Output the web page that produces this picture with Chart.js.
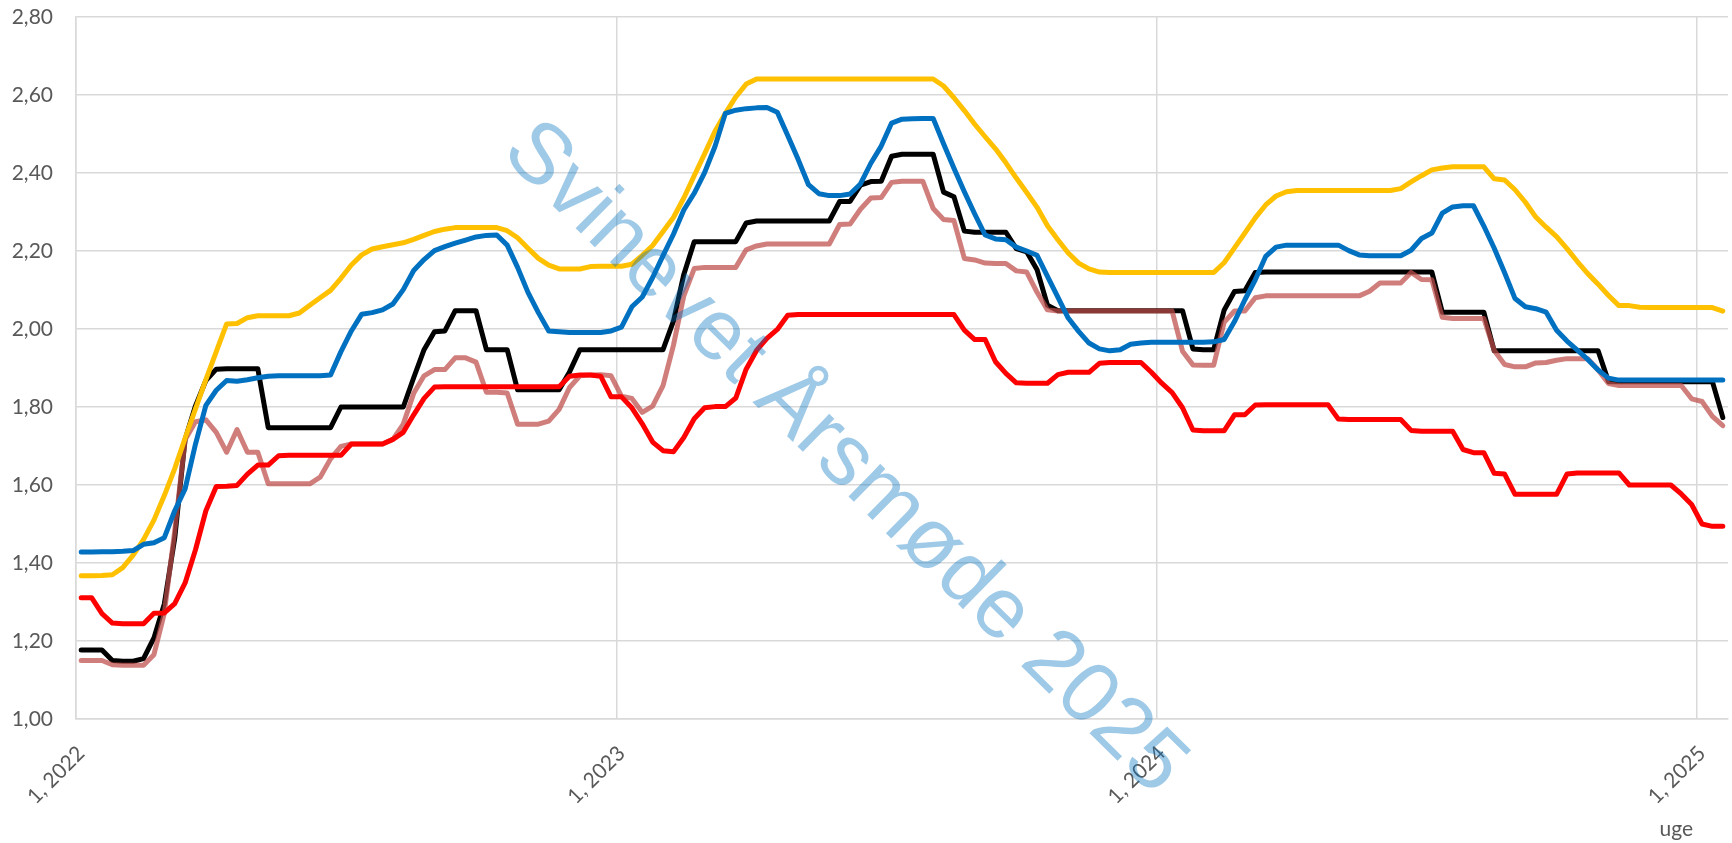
<!DOCTYPE html>
<html>
<head>
<meta charset="utf-8">
<script src="https://cdn.jsdelivr.net/npm/chart.js@4.4.1/dist/chart.umd.min.js"></script>
<style>
  html, body { margin: 0; padding: 0; background: #fff; }
  #wrap { width: 1732px; height: 843px; }
</style>
</head>
<body>
<div id="wrap"><canvas id="chart"></canvas></div>
<script>
// x axis: uge (week) per year
const years = [2022, 2023, 2024, 2025];
const weeksInYear = [52, 52, 52, 3];

// y axis ticks (kr/kg)
const yMin = 1.0;
const yMax = 2.8;
const yStep = 0.2;

// one line per year: 2022 | 2023 | 2024 | 2025
const yellowSeries = [
  1.367, 1.367, 1.368, 1.370, 1.388, 1.42, 1.46, 1.51, 1.573, 1.642, 1.72, 1.795, 1.87,
  1.942, 2.013, 2.014, 2.029, 2.034, 2.034, 2.034, 2.034, 2.041, 2.061, 2.08, 2.099, 2.13,
  2.164, 2.19, 2.205, 2.211, 2.216, 2.221, 2.23, 2.24, 2.25, 2.256, 2.26, 2.26, 2.26,
  2.26, 2.26, 2.252, 2.234, 2.207, 2.181, 2.164, 2.154, 2.154, 2.154, 2.16, 2.161, 2.161,

  2.161, 2.166, 2.189, 2.214, 2.25, 2.286, 2.336, 2.393, 2.449, 2.507, 2.553, 2.595, 2.628,
  2.641, 2.641, 2.641, 2.641, 2.641, 2.641, 2.641, 2.641, 2.641, 2.641, 2.641, 2.641, 2.641,
  2.641, 2.641, 2.641, 2.641, 2.641, 2.623, 2.593, 2.56, 2.525, 2.493, 2.462, 2.426, 2.387,
  2.35, 2.312, 2.265, 2.229, 2.195, 2.169, 2.154, 2.146, 2.145, 2.145, 2.145, 2.145, 2.145,

  2.145, 2.145, 2.145, 2.145, 2.145, 2.145, 2.17, 2.208, 2.246, 2.285, 2.318, 2.341, 2.352,
  2.355, 2.355, 2.355, 2.355, 2.355, 2.355, 2.355, 2.355, 2.355, 2.355, 2.36, 2.377, 2.393,
  2.408, 2.413, 2.416, 2.416, 2.416, 2.416, 2.385, 2.382, 2.357, 2.325, 2.287, 2.261, 2.237,
  2.206, 2.173, 2.142, 2.115, 2.086, 2.06, 2.06, 2.056, 2.055, 2.055, 2.055, 2.055, 2.055,

  2.055, 2.055, 2.046
];

const blueSeries = [
  1.428, 1.428, 1.429, 1.429, 1.43, 1.432, 1.448, 1.452, 1.465, 1.534, 1.59, 1.705, 1.804,
  1.843, 1.868, 1.866, 1.87, 1.875, 1.879, 1.88, 1.88, 1.88, 1.88, 1.88, 1.882, 1.942,
  1.995, 2.038, 2.042, 2.049, 2.064, 2.101, 2.15, 2.178, 2.201, 2.211, 2.22, 2.228, 2.236,
  2.24, 2.241, 2.215, 2.158, 2.094, 2.042, 1.995, 1.993, 1.991, 1.991, 1.991, 1.991, 1.995,

  2.005, 2.057, 2.082, 2.132, 2.188, 2.243, 2.305, 2.348, 2.401, 2.468, 2.553, 2.561, 2.565,
  2.567, 2.568, 2.556, 2.496, 2.435, 2.37, 2.347, 2.342, 2.342, 2.346, 2.372, 2.425, 2.469,
  2.528, 2.538, 2.539, 2.54, 2.54, 2.475, 2.412, 2.352, 2.295, 2.241, 2.231, 2.229, 2.21,
  2.20, 2.189, 2.135, 2.082, 2.028, 1.994, 1.964, 1.949, 1.944, 1.947, 1.961, 1.964, 1.966,

  1.966, 1.966, 1.966, 1.966, 1.966, 1.967, 1.973, 2.019, 2.075, 2.126, 2.186, 2.21, 2.215,
  2.215, 2.215, 2.215, 2.215, 2.215, 2.201, 2.19, 2.188, 2.188, 2.188, 2.188, 2.202, 2.232,
  2.246, 2.297, 2.313, 2.316, 2.316, 2.264, 2.207, 2.144, 2.078, 2.057, 2.052, 2.043, 1.997,
  1.969, 1.946, 1.922, 1.895, 1.874, 1.869, 1.869, 1.869, 1.869, 1.869, 1.869, 1.869, 1.869,

  1.869, 1.869, 1.869
];

const blackSeries = [
  1.177, 1.177, 1.177, 1.15, 1.148, 1.148, 1.155, 1.208, 1.295, 1.463, 1.717, 1.803, 1.868,
  1.897, 1.898, 1.898, 1.898, 1.898, 1.747, 1.747, 1.747, 1.747, 1.747, 1.747, 1.747, 1.80,
  1.80, 1.80, 1.80, 1.80, 1.80, 1.80, 1.875, 1.947, 1.993, 1.995, 2.047, 2.047, 2.047,
  1.947, 1.947, 1.947, 1.844, 1.844, 1.844, 1.844, 1.844, 1.89, 1.947, 1.947, 1.947, 1.947,

  1.947, 1.947, 1.947, 1.947, 1.947, 2.02, 2.14, 2.224, 2.224, 2.224, 2.224, 2.224, 2.272,
  2.277, 2.277, 2.277, 2.277, 2.277, 2.277, 2.277, 2.277, 2.327, 2.327, 2.369, 2.378, 2.379,
  2.443, 2.448, 2.448, 2.448, 2.448, 2.351, 2.339, 2.251, 2.248, 2.248, 2.248, 2.248, 2.206,
  2.198, 2.152, 2.061, 2.047, 2.047, 2.047, 2.047, 2.047, 2.047, 2.047, 2.047, 2.047, 2.047,

  2.047, 2.047, 2.047, 1.949, 1.947, 1.947, 2.048, 2.096, 2.098, 2.145, 2.146, 2.146, 2.146,
  2.146, 2.146, 2.146, 2.146, 2.146, 2.146, 2.146, 2.146, 2.146, 2.146, 2.146, 2.146, 2.146,
  2.146, 2.043, 2.043, 2.043, 2.043, 2.043, 1.944, 1.944, 1.944, 1.944, 1.944, 1.944, 1.944,
  1.944, 1.944, 1.944, 1.944, 1.865, 1.865, 1.865, 1.865, 1.865, 1.865, 1.865, 1.865, 1.865,

  1.865, 1.865, 1.773
];

const roseSeries = [
  1.15, 1.15, 1.15, 1.139, 1.138, 1.138, 1.138, 1.165, 1.271, 1.482, 1.716, 1.762, 1.767,
  1.735, 1.684, 1.742, 1.684, 1.684, 1.603, 1.603, 1.603, 1.603, 1.603, 1.62, 1.667, 1.699,
  1.705, 1.705, 1.705, 1.705, 1.717, 1.756, 1.835, 1.88, 1.896, 1.896, 1.926, 1.926, 1.915,
  1.838, 1.838, 1.836, 1.756, 1.756, 1.756, 1.764, 1.794, 1.85, 1.88, 1.882, 1.883, 1.88,

  1.828, 1.822, 1.786, 1.802, 1.855, 1.958, 2.085, 2.155, 2.158, 2.158, 2.158, 2.158, 2.203,
  2.213, 2.218, 2.218, 2.218, 2.218, 2.218, 2.218, 2.218, 2.268, 2.269, 2.307, 2.336, 2.337,
  2.376, 2.379, 2.379, 2.379, 2.309, 2.281, 2.278, 2.181, 2.177, 2.169, 2.168, 2.168, 2.149,
  2.146, 2.094, 2.049, 2.046, 2.046, 2.046, 2.046, 2.046, 2.046, 2.046, 2.046, 2.046, 2.046,

  2.046, 2.046, 1.943, 1.908, 1.907, 1.907, 2.017, 2.046, 2.046, 2.08, 2.085, 2.085, 2.085,
  2.085, 2.085, 2.085, 2.085, 2.085, 2.085, 2.085, 2.097, 2.118, 2.118, 2.118, 2.145, 2.127,
  2.126, 2.03, 2.027, 2.027, 2.027, 2.027, 1.945, 1.909, 1.903, 1.903, 1.913, 1.914, 1.92,
  1.924, 1.924, 1.924, 1.895, 1.86, 1.855, 1.855, 1.855, 1.855, 1.855, 1.855, 1.855, 1.821,

  1.814, 1.776, 1.752
];

const redSeries = [
  1.311, 1.311, 1.27, 1.246, 1.244, 1.244, 1.244, 1.271, 1.272, 1.296, 1.349, 1.434, 1.534,
  1.596, 1.597, 1.599, 1.628, 1.651, 1.651, 1.675, 1.676, 1.676, 1.676, 1.676, 1.676, 1.676,
  1.705, 1.705, 1.705, 1.705, 1.717, 1.735, 1.78, 1.822, 1.851, 1.852, 1.852, 1.852, 1.852,
  1.852, 1.852, 1.852, 1.852, 1.852, 1.852, 1.852, 1.852, 1.879, 1.882, 1.882, 1.879, 1.826,

  1.826, 1.798, 1.757, 1.71, 1.688, 1.685, 1.722, 1.77, 1.798, 1.801, 1.801, 1.823, 1.897,
  1.945, 1.976, 1.999, 2.035, 2.037, 2.037, 2.037, 2.037, 2.037, 2.037, 2.037, 2.037, 2.037,
  2.037, 2.037, 2.037, 2.037, 2.037, 2.037, 2.037, 1.997, 1.973, 1.973, 1.916, 1.886, 1.862,
  1.861, 1.861, 1.861, 1.883, 1.889, 1.889, 1.889, 1.912, 1.914, 1.914, 1.914, 1.914, 1.889,

  1.861, 1.837, 1.798, 1.741, 1.739, 1.739, 1.739, 1.78, 1.78, 1.805, 1.806, 1.806, 1.806,
  1.806, 1.806, 1.806, 1.806, 1.769, 1.768, 1.768, 1.768, 1.768, 1.768, 1.768, 1.74, 1.738,
  1.738, 1.738, 1.738, 1.691, 1.683, 1.683, 1.63, 1.628, 1.576, 1.576, 1.576, 1.576, 1.576,
  1.628, 1.631, 1.631, 1.631, 1.631, 1.631, 1.60, 1.60, 1.60, 1.60, 1.60, 1.577, 1.55,

  1.50, 1.494, 1.494
];

// category labels "uge, år"
const weekNo = [];
const labels = [];
years.forEach((year, k) => {
  for (let w = 1; w <= weeksInYear[k]; w++) {
    weekNo.push(w);
    labels.push(w + ", " + year);
  }
});

const gridColor = "#d9d9d9";
const textColor = "#595959";

Chart.defaults.font.family = "Lato, 'Open Sans', sans-serif";
Chart.defaults.font.size = 21;
Chart.defaults.color = textColor;

// watermark + axis title drawn on top
const overlay = {
  id: "overlay",
  afterDraw(chart) {
    const ctx = chart.ctx;
    ctx.save();
    ctx.font = "86px 'Liberation Sans', Arial, sans-serif";
    ctx.fillStyle = "rgba(0, 112, 192, 0.38)";
    ctx.textBaseline = "alphabetic";
    ctx.translate(500, 154);
    ctx.rotate(44.5 * Math.PI / 180);
    ctx.fillText("Svinevet Årsmøde 2025", 0, 0);
    ctx.restore();

    ctx.save();
    ctx.font = "21px Lato, sans-serif";
    ctx.fillStyle = textColor;
    ctx.textAlign = "right";
    ctx.textBaseline = "alphabetic";
    ctx.fillText("uge", chart.chartArea.right - 35, 836);
    ctx.restore();
  }
};

function line(data, color, order) {
  return {
    data: data,
    borderColor: color,
    borderWidth: 5,
    pointRadius: 0,
    tension: 0,
    fill: false,
    borderJoinStyle: "round",
    borderCapStyle: "round",
    order: order
  };
}

new Chart(document.getElementById("chart"), {
  type: "line",
  data: {
    labels: labels,
    datasets: [
      line(blueSeries, "#0070c0", 1),
      line(yellowSeries, "#ffc000", 2),
      line(redSeries, "#ff0000", 3),
      line(roseSeries, "rgba(190, 78, 76, 0.73)", 4),
      line(blackSeries, "#000000", 5)
    ]
  },
  options: {
    responsive: true,
    maintainAspectRatio: false,
    animation: false,
    layout: { padding: { top: 17, right: 4, left: 0, bottom: 0 } },
    plugins: {
      legend: { display: false },
      tooltip: { enabled: false }
    },
    scales: {
      x: {
        type: "category",
        offset: true,
        afterFit: scale => {
          scale.height = 124;
          scale.paddingLeft = 0;
          scale.paddingRight = 0;
        },
        grid: {
          offset: true,
          drawTicks: false,
          lineWidth: 1.5,
          color: c => (c.index < weekNo.length && weekNo[c.index] === 1) ? gridColor : "rgba(0,0,0,0)"
        },
        border: { color: gridColor, width: 1.5 },
        ticks: {
          autoSkip: false,
          minRotation: 45,
          maxRotation: 45,
          padding: 22,
          color: textColor,
          callback: (val, i) => weekNo[i] === 1 ? labels[i] : ""
        }
      },
      y: {
        min: yMin,
        max: yMax,
        afterFit: scale => {
          scale.width = 76;
          scale.paddingTop = 0;
          scale.paddingBottom = 0;
        },
        grid: { color: gridColor, lineWidth: 1.5, drawTicks: false },
        border: { color: gridColor, width: 1.5 },
        ticks: {
          stepSize: yStep,
          padding: 23,
          color: textColor,
          callback: v => v.toFixed(2).replace(".", ",")
        }
      }
    }
  },
  plugins: [overlay]
});
</script>
</body>
</html>
